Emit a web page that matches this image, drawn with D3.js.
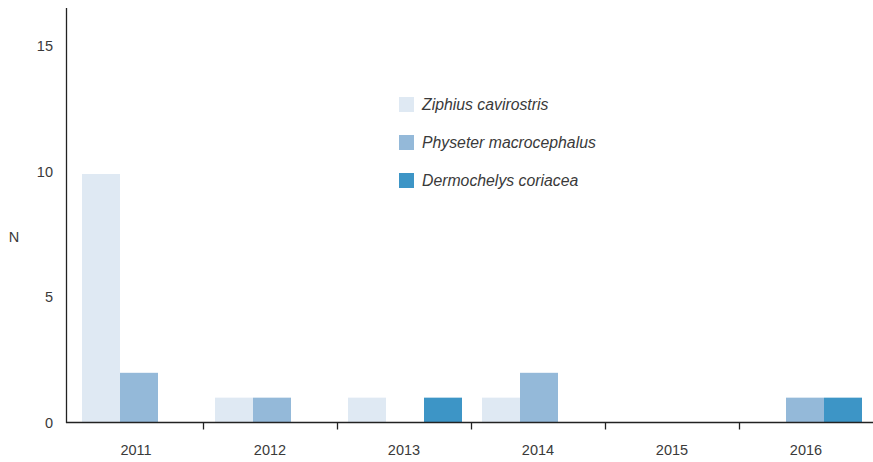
<!DOCTYPE html>
<html>
<head>
<meta charset="utf-8">
<script src="https://cdn.jsdelivr.net/npm/d3@7"></script>
<style>
  body { margin: 0; background: #fff; }
  text { font-family: "Liberation Sans", Arial, sans-serif; fill: #3a3a3a; }
</style>
</head>
<body>
<svg id="chart" width="873" height="462"></svg>
<script>
var years = ["2011", "2012", "2013", "2014", "2015", "2016"];
var species = ["Ziphius cavirostris", "Physeter macrocephalus", "Dermochelys coriacea"];
var ziphius = [10, 1, 1, 1, 0, 0];
var physeter = [2, 1, 0, 2, 0, 1];
var dermochelys = [0, 0, 1, 0, 0, 1];
var yTicks = [0, 5, 10, 15];
var colors = ["#dfe9f3", "#94b9d9", "#3d95c6"];

var series = [ziphius, physeter, dermochelys];
var svg = d3.select("#chart");

// axis scale (ticks + labels) and a slightly tighter one for the bar groups
var x = d3.scaleBand().domain(years).range([69, 873]);
var xBars = d3.scaleBand().domain(years).range([72.5, 871.5]);
var y = d3.scaleLinear().domain([0, 16.6]).range([422.5, 10]);
// tick labels sit a touch higher than the bar scale in the original
var yLab = d3.scaleLinear().domain([0, 15]).range([423, 46]);
var barW = 38;
var inner = d3.scaleBand().domain(d3.range(species.length))
    .range([0, barW * species.length]);

// bars
years.forEach(function (yr, i) {
    var x0 = Math.round(xBars(yr) + (xBars.bandwidth() - barW * species.length) / 2);
    series.forEach(function (s, j) {
        if (s[i] === 0) return;
        svg.append("rect")
            .attr("x", x0 + inner(j))
            .attr("width", inner.bandwidth())
            .attr("y", y(s[i]))
            .attr("height", y(0) - y(s[i]))
            .attr("fill", colors[j]);
    });
});

// y axis
svg.append("line")
    .attr("x1", 66.5).attr("x2", 66.5)
    .attr("y1", 8).attr("y2", y(0) + 0.5)
    .attr("stroke", "#222").attr("stroke-width", 1.3);
svg.selectAll(".ytick").data(yTicks).enter().append("text")
    .attr("x", 53)
    .attr("y", function (d) { return yLab(d); })
    .attr("dy", "0.35em")
    .attr("text-anchor", "end")
    .style("font-size", "14.5px")
    .text(function (d) { return d; });
svg.append("text")
    .attr("x", 14).attr("y", 237)
    .attr("dy", "0.35em")
    .attr("text-anchor", "middle")
    .style("font-size", "14.5px")
    .text("N");

// x axis
svg.append("line")
    .attr("x1", 66).attr("x2", 873)
    .attr("y1", y(0)).attr("y2", y(0))
    .attr("stroke", "#222").attr("stroke-width", 1.3);
svg.selectAll(".xtick").data(years.slice(1)).enter().append("line")
    .attr("x1", function (d) { return x(d) + 0.5; })
    .attr("x2", function (d) { return x(d) + 0.5; })
    .attr("y1", y(0)).attr("y2", y(0) + 7)
    .attr("stroke", "#222").attr("stroke-width", 1.3);
svg.selectAll(".xlabel").data(years).enter().append("text")
    .attr("x", function (d) { return x(d) + x.bandwidth() / 2; })
    .attr("y", 450)
    .attr("dy", "0.35em")
    .attr("text-anchor", "middle")
    .style("font-size", "14.5px")
    .text(function (d) { return d; });

// legend
var legend = svg.selectAll(".legend").data(species).enter().append("g")
    .attr("transform", function (d, i) { return "translate(399," + (97 + i * 38) + ")"; });
legend.append("rect")
    .attr("width", 15).attr("height", 15)
    .attr("fill", function (d, i) { return colors[i]; });
legend.append("text")
    .attr("x", 23).attr("y", 7.5)
    .attr("dy", "0.35em")
    .style("font-size", "15.8px")
    .style("font-style", "italic")
    .text(function (d) { return d; });
</script>
</body>
</html>
